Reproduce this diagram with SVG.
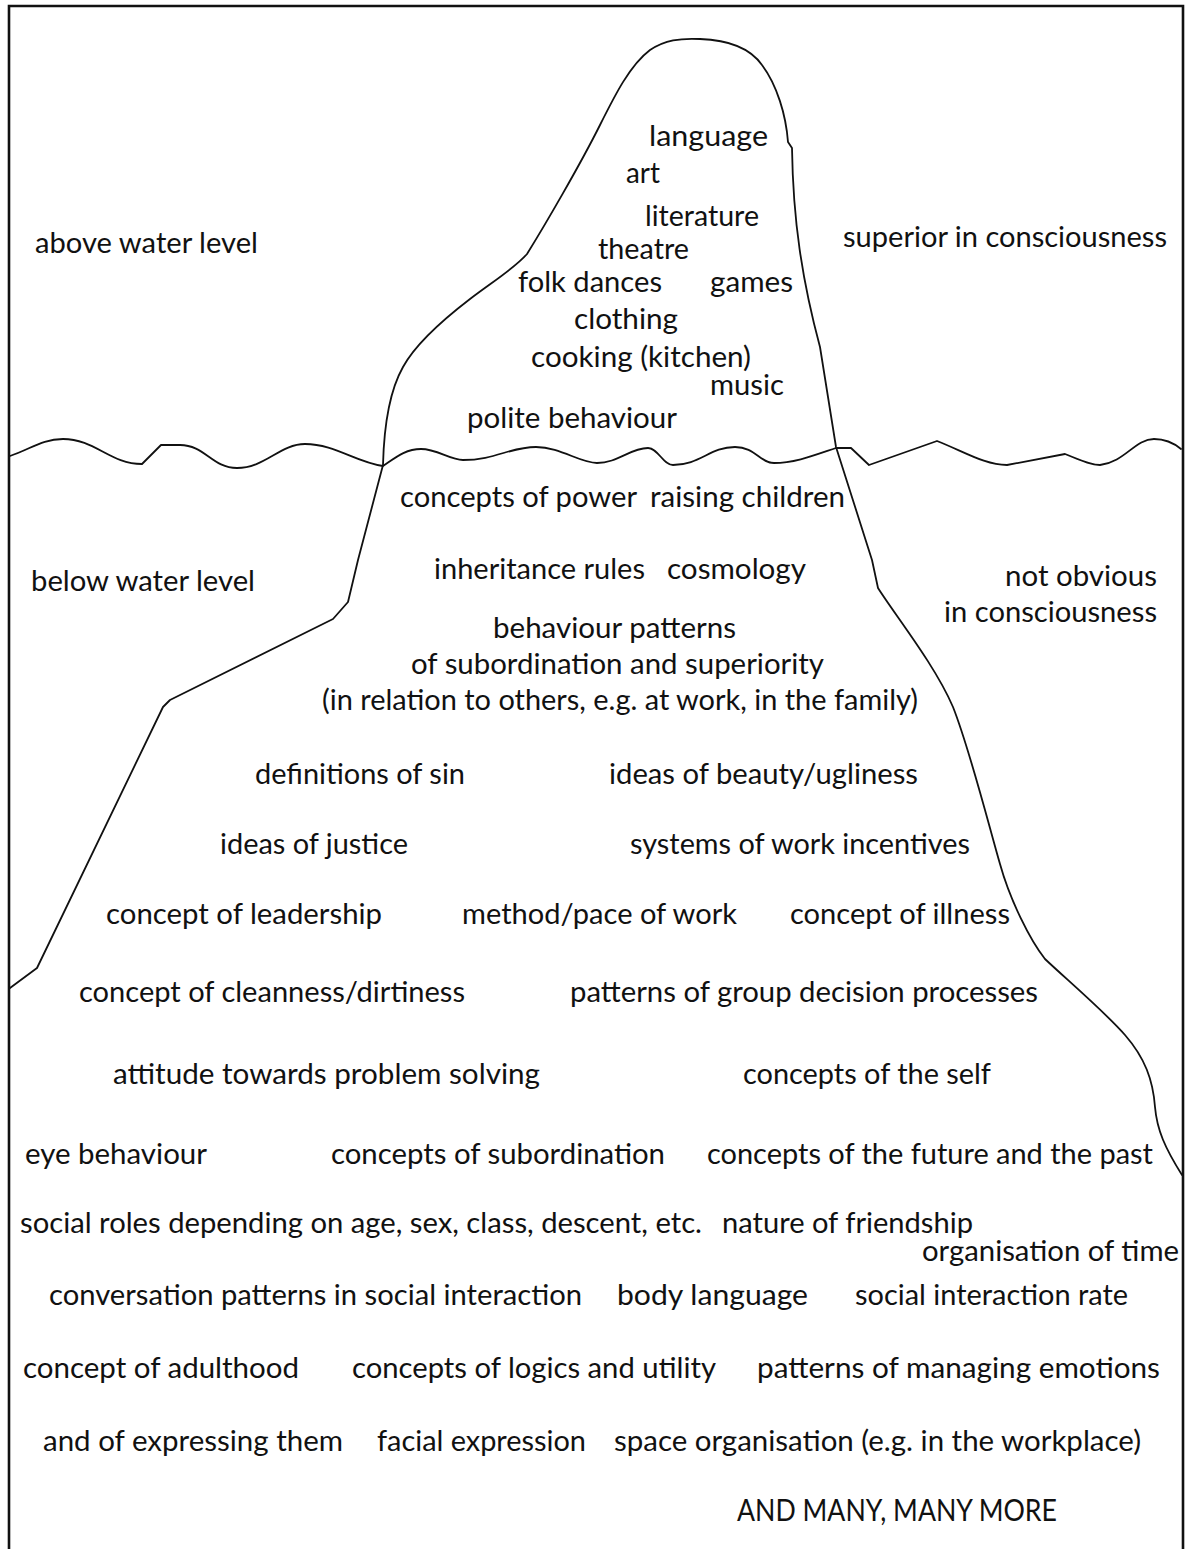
<svg xmlns="http://www.w3.org/2000/svg" width="1188" height="1549" viewBox="0 0 1188 1549">
<style>
.t{font-family:Lato,"Liberation Sans",Arial,sans-serif;font-size:28px;fill:#111}
.c{font-family:Lato,"Liberation Sans",Arial,sans-serif;font-size:30px;fill:#111}
.ln{fill:none;stroke:#111;stroke-width:1.8;stroke-linejoin:round;stroke-linecap:round}
.fr{fill:none;stroke:#111;stroke-width:2.6}
</style>
<rect width="1188" height="1549" fill="#fff"/>
<g id="frame">
<path class="fr" d="M9,1549 L9,6 L1183,6 L1183,1549"/>
</g>
<g id="connectors">
<path id="iceberg" class="ln" d="M10,988 L37,968 L163,707 L170,700 L333,619 L348,602 L358,560 L383,465 C384,425 390,390 403,367 C415,345 440,322 470,299 C495,280 515,268 527,254 C545,225 580,165 600,125 C615,95 630,65 650,50 C665,40 680,38 700,39 C730,40 750,48 762,65 C777,85 786,115 788,142 L792,148 C793,220 802,280 820,347 L836,447 L872,560 L878,588 C895,615 935,665 953,707 C970,750 990,830 1000,864 C1010,900 1030,940 1045,959 C1065,978 1105,1012 1125,1035 C1145,1058 1153,1080 1155,1107 C1157,1130 1165,1148 1182,1175"/>
<path id="water" class="ln" d="M10,456 C31,449 42,439 63,439 C95,439 110,464 142,464 L161,445 L180,445 C205,445 212,468 237,468 C265,468 280,444 305,444 C335,444 355,462 383,466 C395,458 405,449 421,449 C437,449 450,460 463,460 C495,460 510,447 536,447 C560,447 580,463 597,463 C618,463 630,448 648,448 C658,448 663,465 673,465 C700,465 710,447 735,447 C755,447 760,463 774,463 C795,463 815,455 836,448 L851,448 L869,465 L937,441 C965,452 985,465 1007,465 L1065,454 C1080,460 1090,465 1100,465 C1125,462 1135,439 1154,439 C1165,439 1175,444 1181,449"/>
</g>
<g id="labels">
<text class="t" x="35" y="253" textLength="223" lengthAdjust="spacingAndGlyphs">above water level</text>
<text class="t" x="843" y="247" textLength="324" lengthAdjust="spacingAndGlyphs">superior in consciousness</text>
<text class="t" x="31" y="591" textLength="224" lengthAdjust="spacingAndGlyphs">below water level</text>
<text class="t" x="1005" y="586" textLength="152" lengthAdjust="spacingAndGlyphs">not obvious</text>
<text class="t" x="944" y="622" textLength="213" lengthAdjust="spacingAndGlyphs">in consciousness</text>
</g>
<g id="above">
<text class="t" x="649" y="146" textLength="119" lengthAdjust="spacingAndGlyphs">language</text>
<text class="t" x="626" y="183" textLength="34" lengthAdjust="spacingAndGlyphs">art</text>
<text class="t" x="645" y="226" textLength="114" lengthAdjust="spacingAndGlyphs">literature</text>
<text class="t" x="598" y="259" textLength="91" lengthAdjust="spacingAndGlyphs">theatre</text>
<text class="t" x="518" y="292" textLength="144" lengthAdjust="spacingAndGlyphs">folk dances</text>
<text class="t" x="710" y="292" textLength="83" lengthAdjust="spacingAndGlyphs">games</text>
<text class="t" x="574" y="329" textLength="104" lengthAdjust="spacingAndGlyphs">clothing</text>
<text class="t" x="531" y="367" textLength="220" lengthAdjust="spacingAndGlyphs">cooking (kitchen)</text>
<text class="t" x="710" y="395" textLength="74" lengthAdjust="spacingAndGlyphs">music</text>
<text class="t" x="467" y="428" textLength="210" lengthAdjust="spacingAndGlyphs">polite behaviour</text>
</g>
<g id="below">
<text class="t" x="400" y="507" textLength="237" lengthAdjust="spacingAndGlyphs">concepts of power</text>
<text class="t" x="650" y="507" textLength="195" lengthAdjust="spacingAndGlyphs">raising children</text>
<text class="t" x="434" y="579" textLength="211" lengthAdjust="spacingAndGlyphs">inheritance rules</text>
<text class="t" x="667" y="579" textLength="139" lengthAdjust="spacingAndGlyphs">cosmology</text>
<text class="t" x="493" y="638" textLength="243" lengthAdjust="spacingAndGlyphs">behaviour patterns</text>
<text class="t" x="411" y="674" textLength="413" lengthAdjust="spacingAndGlyphs">of subordination and superiority</text>
<text class="t" x="322" y="710" textLength="596" lengthAdjust="spacingAndGlyphs">(in relation to others, e.g. at work, in the family)</text>
<text class="t" x="255" y="784" textLength="210" lengthAdjust="spacingAndGlyphs">definitions of sin</text>
<text class="t" x="609" y="784" textLength="309" lengthAdjust="spacingAndGlyphs">ideas of beauty/ugliness</text>
<text class="t" x="220" y="854" textLength="188" lengthAdjust="spacingAndGlyphs">ideas of justice</text>
<text class="t" x="630" y="854" textLength="340" lengthAdjust="spacingAndGlyphs">systems of work incentives</text>
<text class="t" x="106" y="924" textLength="276" lengthAdjust="spacingAndGlyphs">concept of leadership</text>
<text class="t" x="462" y="924" textLength="275" lengthAdjust="spacingAndGlyphs">method/pace of work</text>
<text class="t" x="790" y="924" textLength="220" lengthAdjust="spacingAndGlyphs">concept of illness</text>
<text class="t" x="79" y="1002" textLength="386" lengthAdjust="spacingAndGlyphs">concept of cleanness/dirtiness</text>
<text class="t" x="570" y="1002" textLength="468" lengthAdjust="spacingAndGlyphs">patterns of group decision processes</text>
<text class="t" x="113" y="1084" textLength="427" lengthAdjust="spacingAndGlyphs">attitude towards problem solving</text>
<text class="t" x="743" y="1084" textLength="248" lengthAdjust="spacingAndGlyphs">concepts of the self</text>
<text class="t" x="25" y="1164" textLength="182" lengthAdjust="spacingAndGlyphs">eye behaviour</text>
<text class="t" x="331" y="1164" textLength="334" lengthAdjust="spacingAndGlyphs">concepts of subordination</text>
<text class="t" x="707" y="1164" textLength="446" lengthAdjust="spacingAndGlyphs">concepts of the future and the past</text>
<text class="t" x="20" y="1233" textLength="682" lengthAdjust="spacingAndGlyphs">social roles depending on age, sex, class, descent, etc.</text>
<text class="t" x="722" y="1233" textLength="251" lengthAdjust="spacingAndGlyphs">nature of friendship</text>
<text class="t" x="922" y="1261" textLength="257" lengthAdjust="spacingAndGlyphs">organisation of time</text>
<text class="t" x="49" y="1305" textLength="533" lengthAdjust="spacingAndGlyphs">conversation patterns in social interaction</text>
<text class="t" x="617" y="1305" textLength="191" lengthAdjust="spacingAndGlyphs">body language</text>
<text class="t" x="855" y="1305" textLength="273" lengthAdjust="spacingAndGlyphs">social interaction rate</text>
<text class="t" x="23" y="1378" textLength="276" lengthAdjust="spacingAndGlyphs">concept of adulthood</text>
<text class="t" x="352" y="1378" textLength="364" lengthAdjust="spacingAndGlyphs">concepts of logics and utility</text>
<text class="t" x="757" y="1378" textLength="403" lengthAdjust="spacingAndGlyphs">patterns of managing emotions</text>
<text class="t" x="43" y="1451" textLength="300" lengthAdjust="spacingAndGlyphs">and of expressing them</text>
<text class="t" x="377" y="1451" textLength="209" lengthAdjust="spacingAndGlyphs">facial expression</text>
<text class="t" x="614" y="1451" textLength="527" lengthAdjust="spacingAndGlyphs">space organisation (e.g. in the workplace)</text>
<text class="c" x="737" y="1521" textLength="320" lengthAdjust="spacingAndGlyphs">AND MANY, MANY MORE</text>
</g>
</svg>
